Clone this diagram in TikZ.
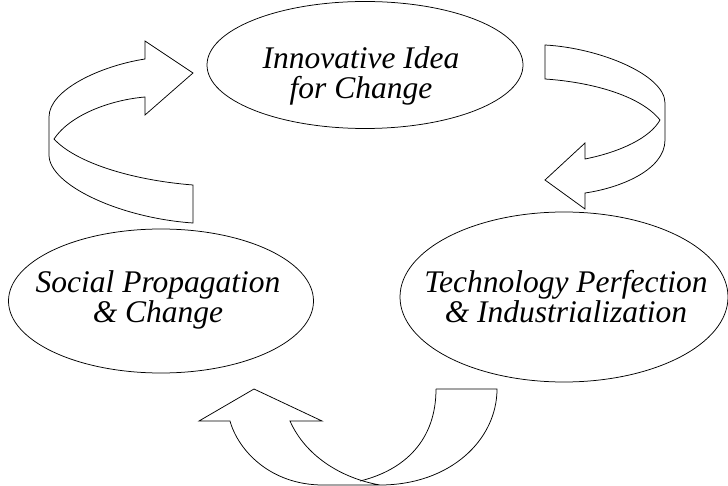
\documentclass[tikz,border=0pt]{standalone}
\usepackage{fontspec}
\setmainfont{Liberation Serif}
\newfontfamily\capfont{Liberation Serif}
\usetikzlibrary{shapes.geometric}
\tikzset{
  bubble/.style={draw, ellipse, inner sep=0pt, line width=0.75pt},
  captext/.style={align=center, font=\capfont\fontsize{31.5}{30}\selectfont\itshape, inner sep=0pt},
  ribbon/.style={draw, fill=white, line width=0.75pt, line join=miter}
}
\begin{document}
\begin{tikzpicture}[x=1pt,y=-1pt]
\useasboundingbox (0,0) rectangle (728,486);
% ellipses
\node[bubble, minimum width=316pt, minimum height=127pt] (idea) at (365,65) {};
\node[bubble, minimum width=305pt, minimum height=144pt] (social) at (161,301) {};
\node[bubble, minimum width=328pt, minimum height=170pt] (tech) at (564,297) {};
% texts
\node[captext] (ideatext) at (361,76) {Innovative Idea\\for Change};
\node[captext] (socialtext) at (158,300) {Social Propagation\\\& Change};
\node[captext] (techtext) at (566,297) {Technology Perfection\\\& Industrialization};
% left ribbon arrow (social -> idea)
\draw[ribbon] (193,73) -- (145,41) -- (145,59)
  .. controls (100,66) and (49,90) .. (49,117) -- (49,155)
  .. controls (49,185) and (120,218) .. (193,223) -- (193,185)
  .. controls (130,180) and (75,162) .. (54,139)
  .. controls (70,115) and (110,100) .. (145,97) -- (145,115) -- cycle;
% right ribbon arrow (idea -> tech)
\draw[ribbon] (545,45)
  .. controls (600,48) and (665,75) .. (665,103) -- (665,140)
  .. controls (665,170) and (620,188) .. (585,193) -- (585,209) -- (545,180)
  -- (585,143) -- (585,159)
  .. controls (620,152) and (650,138) .. (660,120)
  .. controls (640,95) and (590,82) .. (545,79) -- cycle;
% bottom ribbon arrow (tech -> social)
\draw[ribbon] (436,389) -- (497,389)
  .. controls (497,440) and (450,485) .. (380,485) -- (323,485)
  .. controls (270,485) and (238,450) .. (230,421) -- (199,421) -- (254,389)
  -- (322,421) -- (290,421)
  .. controls (305,455) and (340,478) .. (380,485);
\draw[ribbon, fill=none] (436,389) .. controls (436,440) and (405,470) .. (360,481);
\end{tikzpicture}
\end{document}
